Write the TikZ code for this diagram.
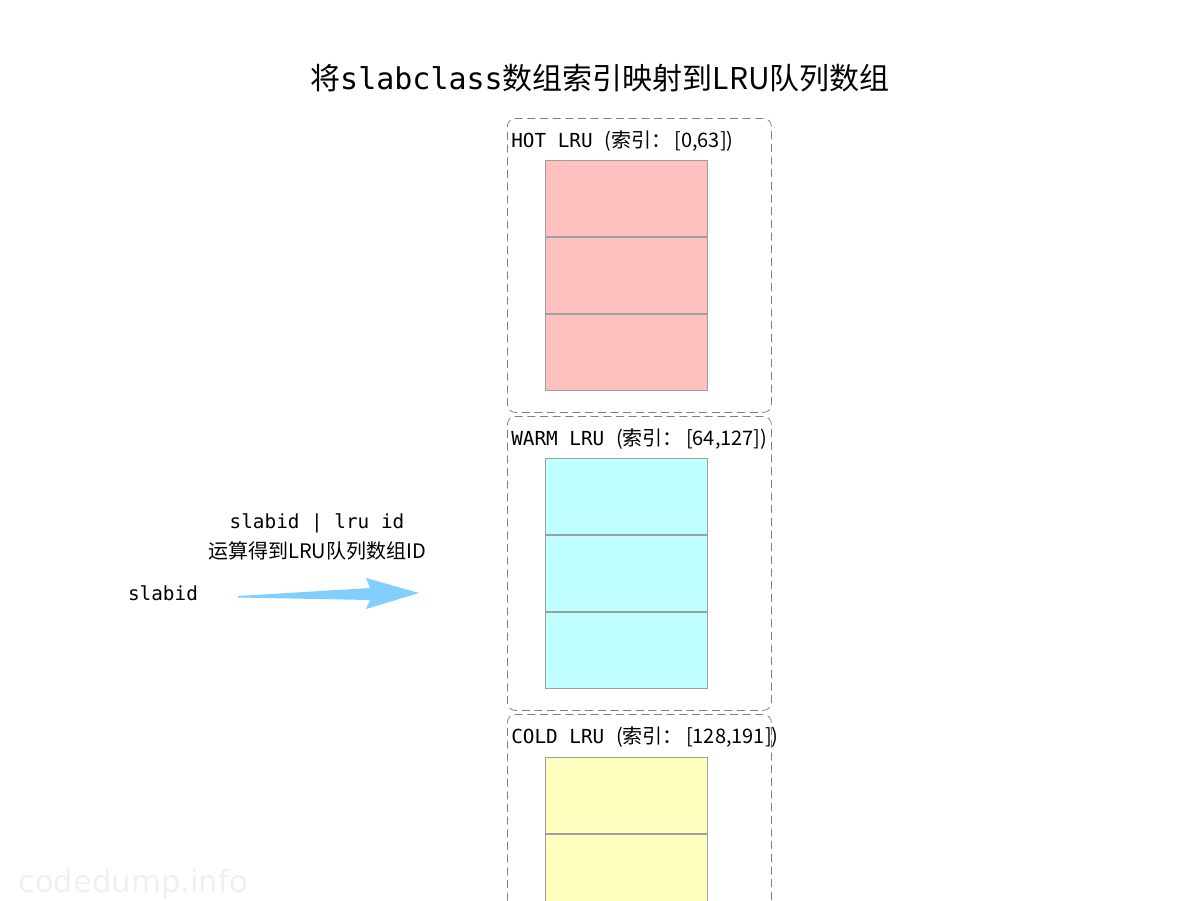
\documentclass[tikz,border=0pt]{standalone}
\usepackage{fontspec}
\usetikzlibrary{positioning}
\setmainfont{Noto Sans CJK SC}
\setmonofont{DejaVu Sans Mono}
\newfontfamily\cjk{Noto Sans CJK SC}
\newfontfamily\markfont{DejaVu Sans}
\definecolor{hotpink}{HTML}{FFC0C0}
\definecolor{warmcyan}{HTML}{C0FFFF}
\definecolor{coldyellow}{HTML}{FFFFC0}
\definecolor{arrowblue}{HTML}{80CFFF}
\tikzset{
  grpbox/.style={draw=gray, dash pattern=on 6pt off 3.5pt, rounded corners=6pt, line width=0.6pt,
    minimum width=198pt, minimum height=220.5pt, anchor=north west, inner sep=0},
  grplabel/.style={anchor=west, inner sep=0, font=\ttfamily\fontsize{14.5}{16}\selectfont},
  cell/.style={draw=gray!75, line width=0.3pt, minimum width=121.5pt,
    minimum height=57.3pt, inner sep=0, anchor=north},
  txt/.style={inner sep=0, font=\ttfamily\fontsize{14.5}{16}\selectfont}
}
\begin{document}
\begin{tikzpicture}[x=0.75pt, y=-0.75pt]
\useasboundingbox (0,0) rectangle (1200,900);
\clip (0,0) rectangle (1200,900);

% title
\node[inner sep=0] (title) at (600,78)
  {\fontsize{22.5}{26}\selectfont\cjk 将{\ttfamily slabclass}数组索引映射到LRU队列数组};

% HOT LRU
\node[grpbox] (hot) at (507,118) {};
\node[grplabel] (hotlab) at (511,141) {HOT LRU {\cjk\fontsize{15}{16}\selectfont (索引：\,[0,63])}};
\node[cell, fill=hotpink] (hot1) at (626,160) {};
\node[cell, fill=hotpink, below=0pt of hot1] (hot2) {};
\node[cell, fill=hotpink, below=0pt of hot2] (hot3) {};

% WARM LRU
\node[grpbox] (warm) at (507,416) {};
\node[grplabel] (warmlab) at (511,439) {WARM LRU {\cjk\fontsize{15}{16}\selectfont (索引：\,[64,127])}};
\node[cell, fill=warmcyan] (warm1) at (626,458) {};
\node[cell, fill=warmcyan, below=0pt of warm1] (warm2) {};
\node[cell, fill=warmcyan, below=0pt of warm2] (warm3) {};

% COLD LRU
\node[grpbox] (cold) at (507,714) {};
\node[grplabel] (coldlab) at (511,737) {COLD LRU {\cjk\fontsize{15}{16}\selectfont (索引：\,[128,191])}};
\node[cell, fill=coldyellow] (cold1) at (626,757) {};
\node[cell, fill=coldyellow, below=0pt of cold1] (cold2) {};
\node[cell, fill=coldyellow, below=0pt of cold2] (cold3) {};

% mapping arrow
\node[txt] (slabid) at (163,593) {slabid};
\node[txt] (oplab) at (317,523) {slabid | lru id};
\node[inner sep=0, font=\cjk\fontsize{15}{17}\selectfont] (opdesc) at (317,551) {运算得到LRU队列数组ID};
\coordinate (tail) at (238,596);
\coordinate (tip) at (419,593);
\fill[arrowblue] (tail) -- (370,588) -- (366,578) -- (tip) -- (366,609) -- (370,600) -- (238,597.5) -- cycle;

% watermark
\node[anchor=west, inner sep=0, text=black!6, font=\markfont\fontsize{23}{26}\selectfont] (mark) at (18,884) {codedump.info};
\end{tikzpicture}
\end{document}
